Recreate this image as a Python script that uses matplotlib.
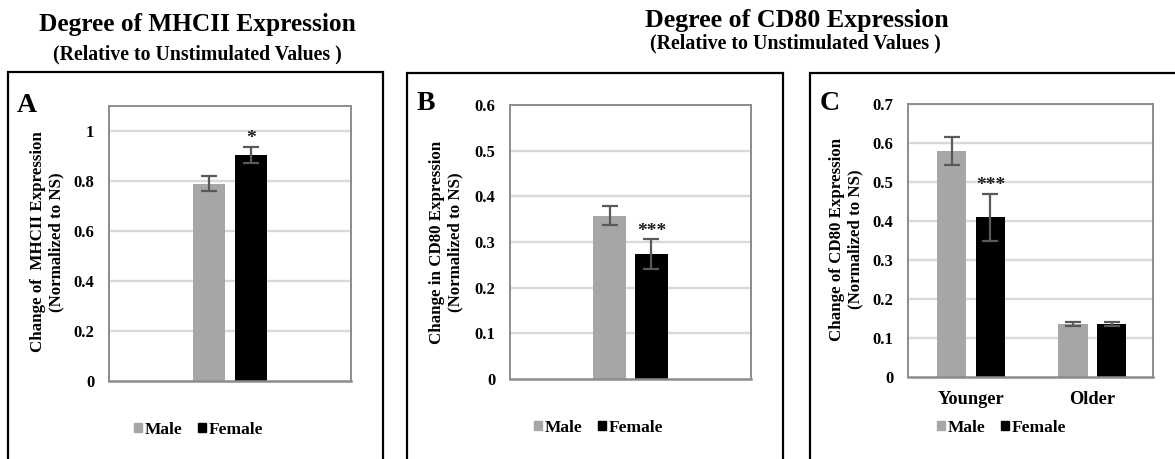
import matplotlib
matplotlib.use("Agg")
import matplotlib.pyplot as plt
from matplotlib.patches import Rectangle, Patch
import numpy as np

# ---------------- data ----------------
series_names = ["Male", "Female"]

mhcii_categories = [""]
mhcii_male = [0.79]
mhcii_male_err = [0.03]
mhcii_female = [0.905]
mhcii_female_err = [0.032]
mhcii_sig = ["*"]
mhcii_ticks = [0, 0.2, 0.4, 0.6, 0.8, 1.0]

cd80_categories = [""]
cd80_male = [0.358]
cd80_male_err = [0.021]
cd80_female = [0.274]
cd80_female_err = [0.033]
cd80_sig = ["***"]
cd80_ticks = [0, 0.1, 0.2, 0.3, 0.4, 0.5, 0.6]

age_categories = ["Younger", "Older"]
age_male = [0.58, 0.135]
age_male_err = [0.036, 0.005]
age_female = [0.41, 0.135]
age_female_err = [0.06, 0.005]
age_sig = ["***", ""]
age_ticks = [0, 0.1, 0.2, 0.3, 0.4, 0.5, 0.6, 0.7]

# ---------------- style ----------------
W, H = 1175, 459
FONT = "Liberation Serif"
MALE_C = "#a6a6a6"
FEMALE_C = "#000000"
ERR_C = "#595959"
GRID_C = "#d9d9d9"
FRAME_C = "#8c8c8c"

plt.rcParams["font.family"] = [FONT, "DejaVu Serif"]
plt.rcParams["font.weight"] = "bold"

fig = plt.figure(figsize=(W / 100, H / 100), dpi=100)


def fx(px):
    return px / W


def fy(py):
    return 1 - py / H


def add_axes(l, t, r, b):
    return fig.add_axes([fx(l), fy(b), fx(r - l), (b - t) / H])


def fmt(v):
    return "0" if v == 0 else ("%g" % v)


def style_axes(ax, ticks, ylim):
    ax.set_ylim(*ylim)
    ax.set_yticks(ticks)
    ax.set_yticklabels([fmt(t) for t in ticks], fontsize=12, fontweight="bold")
    ax.tick_params(axis="y", length=0, pad=10.5)
    ax.tick_params(axis="x", length=0, pad=10)
    for t in ticks[1:]:
        ax.axhline(t, color=GRID_C, lw=1.7, zorder=0)
    for s in ax.spines.values():
        s.set_color(FRAME_C)
        s.set_linewidth(1.4)
    ax.spines["bottom"].set_linewidth(1.8)
    ax.set_axisbelow(True)


def draw_bars(ax, cats, male, male_err, female, female_err, sig, off, width, sig_dy):
    x = np.arange(len(cats))
    ekw = dict(ecolor=ERR_C, elinewidth=1.6, capsize=5.5, capthick=1.6)
    ax.bar(x - off, male, width, color=MALE_C, yerr=male_err, error_kw=ekw, zorder=2)
    ax.bar(x + off, female, width, color=FEMALE_C, yerr=female_err, error_kw=ekw, zorder=2)
    for xi, f, fe, s in zip(x, female, female_err, sig):
        if s:
            ax.annotate(s, (xi + off, f + fe), xytext=(0, sig_dy), textcoords="offset points",
                        ha="center", va="bottom", fontsize=14, fontweight="bold",
                        color="#1a1a1a")
    return x


def legend_at(cx, cy):
    handles = [Patch(color=MALE_C, label=series_names[0]),
               Patch(color=FEMALE_C, label=series_names[1])]
    fig.legend(handles=handles, loc="center", bbox_to_anchor=(fx(cx), fy(cy)),
               ncol=2, frameon=False, handlelength=0.42, handleheight=0.42,
               handletextpad=0.2, columnspacing=0.9,
               prop=dict(family=FONT, weight="bold", size=12.5))


def box(l, t, r):
    fig.add_artist(Rectangle((fx(l), fy(470)), fx(r - l), (470 - t) / H,
                             transform=fig.transFigure, fill=False,
                             edgecolor="black", lw=1.6, clip_on=False))


# ---------------- titles ----------------
fig.text(fx(197), fy(24), "Degree of MHCII Expression", ha="center", va="center",
         fontsize=18.3, fontweight="bold")
fig.text(fx(197), fy(54), "(Relative to Unstimulated Values )", ha="center", va="center",
         fontsize=14.2, fontweight="bold")
fig.text(fx(797), fy(21), "Degree of CD80 Expression", ha="center", va="center",
         fontsize=18.6, fontweight="bold")
fig.text(fx(795), fy(43), "(Relative to Unstimulated Values )", ha="center", va="center",
         fontsize=14.4, fontweight="bold")

# ---------------- panel A ----------------
box(8, 72, 383)
axA = add_axes(109, 106, 351, 381)
axA.set_xlim(-0.5, 0.5)
draw_bars(axA, mhcii_categories, mhcii_male, mhcii_male_err, mhcii_female,
          mhcii_female_err, mhcii_sig, 0.088, 0.132, -0.5)
style_axes(axA, mhcii_ticks, (0, 1.1))
axA.set_xticks([])
fig.text(fx(47), fy(242), "Change of  MHCII Expression\n(Normalized to NS)", rotation=90,
         ha="center", va="center", fontsize=12.2, fontweight="bold", linespacing=1.15)
fig.text(fx(27), fy(105), "A", ha="center", va="center", fontsize=20, fontweight="bold")
legend_at(199, 430)

# ---------------- panel B ----------------
box(407, 73, 783)
axB = add_axes(510, 105, 751, 379)
axB.set_xlim(-0.5, 0.5)
draw_bars(axB, cd80_categories, cd80_male, cd80_male_err, cd80_female,
          cd80_female_err, cd80_sig, 0.087, 0.135, -1.0)
style_axes(axB, cd80_ticks, (0, 0.6))
axB.set_xticks([])
fig.text(fx(446), fy(242), "Change in CD80 Expression\n(Normalized to NS)", rotation=90,
         ha="center", va="center", fontsize=12.2, fontweight="bold", linespacing=1.15)
fig.text(fx(426), fy(103), "B", ha="center", va="center", fontsize=20, fontweight="bold")
legend_at(599, 428)

# ---------------- panel C ----------------
box(810, 73, 1200)
axC = add_axes(908, 104, 1153, 377)
axC.set_xlim(-0.52, 1.5)
xc = draw_bars(axC, age_categories, age_male, age_male_err, age_female,
               age_female_err, age_sig, 0.16, 0.24, -0.2)
style_axes(axC, age_ticks, (0, 0.7))
axC.set_xticks(xc)
axC.set_xticklabels(age_categories, fontsize=13.2, fontweight="bold")
fig.text(fx(846), fy(239), "Change of CD80 Expression\n(Normalized to NS)", rotation=90,
         ha="center", va="center", fontsize=12.2, fontweight="bold", linespacing=1.15)
fig.text(fx(830), fy(103), "C", ha="center", va="center", fontsize=20, fontweight="bold")
legend_at(1002, 428)

fig.savefig("out.png", dpi=100)
